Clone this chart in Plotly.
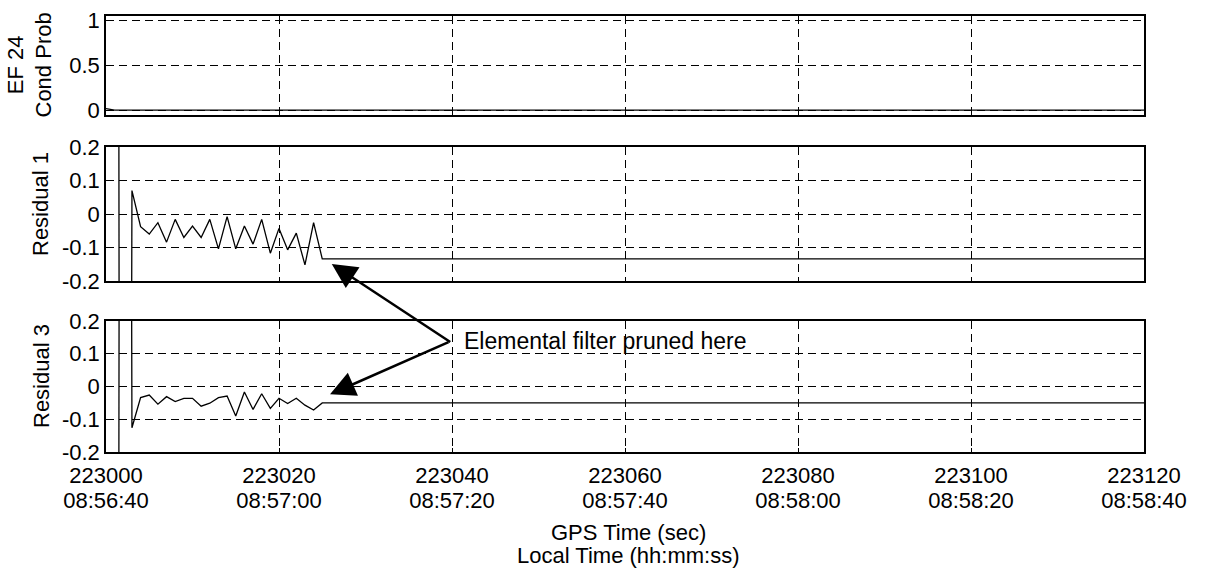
import plotly.graph_objects as go

# ---- data -------------------------------------------------------------
gps_ticks = [223000, 223020, 223040, 223060, 223080, 223100, 223120]
local_ticks = ["08:56:40", "08:57:00", "08:57:20", "08:57:40",
               "08:58:00", "08:58:20", "08:58:40"]

# conditional probability of elemental filter 24
prob_time = [223000, 223001, 223120]
prob_vals = [0.02, 0.005, 0.005]

# residual samples, one per second until the filter is pruned
res_time = [223001, 223002, 223003, 223004, 223005, 223006, 223007, 223008,
            223009, 223010, 223011, 223012, 223013, 223014, 223015, 223016,
            223017, 223018, 223019, 223020, 223021, 223022, 223023, 223024,
            223025, 223120]
res1 = [10, -10, 0.07, -0.038, -0.06, -0.026, -0.084, -0.016, -0.07, -0.036,
        -0.07, -0.016, -0.104, -0.008, -0.104, -0.036, -0.09, -0.016, -0.117,
        -0.043, -0.107, -0.057, -0.152, -0.026, -0.134, -0.134]
res3 = [-10, 10, -0.126, -0.034, -0.026, -0.054, -0.031, -0.046, -0.036,
        -0.036, -0.06, -0.051, -0.034, -0.029, -0.09, -0.017, -0.07, -0.022,
        -0.067, -0.036, -0.052, -0.036, -0.057, -0.072, -0.05, -0.05]

prob_ticks = [0, 0.5, 1]
prob_labels = ["0", "0.5", "1"]
res_ticks = [-0.2, -0.1, 0, 0.1, 0.2]
res_labels = ["-0.2", "-0.1", "0", "0.1", "0.2"]

# pruning point marked on each residual panel
prune_r1 = (223026.1, -0.149)
prune_r3 = (223025.9, -0.024)

# ---- figure -----------------------------------------------------------
W, H = 1207, 573
FONT = "Liberation Sans, Arial, Helvetica, sans-serif"
line = dict(color="black", width=1.3)

fig = go.Figure()
fig.add_trace(go.Scatter(x=prob_time, y=prob_vals, mode="lines", line=line,
                         xaxis="x", yaxis="y"))
fig.add_trace(go.Scatter(x=res_time, y=res1, mode="lines", line=line,
                         xaxis="x2", yaxis="y2"))
fig.add_trace(go.Scatter(x=res_time, y=res3, mode="lines", line=line,
                         xaxis="x3", yaxis="y3"))
# carrier for the local-time tick row
fig.add_trace(go.Scatter(x=[], y=[], mode="lines", xaxis="x4", yaxis="y3",
                         hoverinfo="skip"))


def px_x(p):
    return p / W


def px_y(p):
    return 1 - p / H


xdom = [px_x(106), px_x(1144)]
doms = {
    "y": [px_y(115), px_y(16)],
    "y2": [px_y(281), px_y(147)],
    "y3": [px_y(452), px_y(321)],
}

tickfont = dict(family=FONT, size=22, color="black")
common_x = dict(
    range=[gps_ticks[0], gps_ticks[-1]], domain=xdom, tickvals=gps_ticks,
    showgrid=True, gridcolor="black", gridwidth=1, griddash="8px,5px",
    showline=True, linecolor="black", linewidth=1.5, mirror=True,
    ticks="inside", ticklen=4, tickcolor="black", zeroline=False,
    tickfont=tickfont, automargin=False,
)
common_y = dict(
    showgrid=True, gridcolor="black", gridwidth=1, griddash="8px,5px",
    showline=True, linecolor="black", linewidth=1.5, mirror=True,
    ticks="inside", ticklen=4, tickcolor="black", zeroline=False,
    tickfont=tickfont, automargin=False,
)

fig.update_layout(
    template="none",
    width=W, height=H, autosize=False,
    margin=dict(l=0, r=0, t=0, b=0, pad=0),
    paper_bgcolor="white", plot_bgcolor="white",
    showlegend=False,
    font=dict(family=FONT, size=22, color="black"),
    xaxis=dict(common_x, anchor="y", showticklabels=False),
    xaxis2=dict(common_x, anchor="y2", showticklabels=False),
    xaxis3=dict(common_x, anchor="y3", ticktext=[str(v) for v in gps_ticks],
                ticklabelstandoff=3),
    xaxis4=dict(range=[gps_ticks[0], gps_ticks[-1]], domain=xdom,
                overlaying="x3", anchor="free", position=px_y(485),
                side="bottom", tickvals=gps_ticks, ticktext=local_ticks,
                showgrid=False, showline=False, zeroline=False, ticks="",
                tickfont=tickfont, automargin=False),
    yaxis=dict(common_y, anchor="x", domain=doms["y"], range=[-0.05, 1.05],
               tickvals=prob_ticks, ticktext=prob_labels),
    yaxis2=dict(common_y, anchor="x2", domain=doms["y2"], range=[-0.2, 0.2],
                tickvals=res_ticks, ticktext=res_labels),
    yaxis3=dict(common_y, anchor="x3", domain=doms["y3"], range=[-0.2, 0.2],
                tickvals=res_ticks, ticktext=res_labels),
)

# axis titles
titles = [
    ("EF 24<br>Cond Prob", px_x(30), (doms["y"][0] + doms["y"][1]) / 2),
    ("Residual 1", px_x(41), px_y(204)),
    ("Residual 3", px_x(41), px_y(376)),
]
for txt, x, y in titles:
    fig.add_annotation(text=txt, x=x, y=y, xref="paper", yref="paper",
                       textangle=-90, showarrow=False, xanchor="center",
                       yanchor="middle", font=dict(family=FONT, size=22))

fig.add_annotation(text="GPS Time (sec)", x=px_x(628), y=px_y(532),
                   xref="paper", yref="paper", showarrow=False,
                   xanchor="center", yanchor="middle",
                   font=dict(family=FONT, size=22))
fig.add_annotation(text="Local Time (hh:mm:ss)", x=px_x(628), y=px_y(555),
                   xref="paper", yref="paper", showarrow=False,
                   xanchor="center", yanchor="middle",
                   font=dict(family=FONT, size=22))

# pruning callout
fig.add_annotation(text="Elemental filter pruned here", x=223041.2, y=0.139,
                   xref="x3", yref="y3", xanchor="left", yanchor="middle",
                   showarrow=False, font=dict(family=FONT, size=23))
fig.add_annotation(x=prune_r1[0], y=prune_r1[1], xref="x2", yref="y2",
                   ax=120, ay=79, text="", showarrow=True, arrowhead=2,
                   arrowsize=2, arrowwidth=2.5, arrowcolor="black")
fig.add_annotation(x=prune_r3[0], y=prune_r3[1], xref="x3", yref="y3",
                   ax=120, ay=-53, text="", showarrow=True, arrowhead=2,
                   arrowsize=2, arrowwidth=2.5, arrowcolor="black")

fig.write_html("out.html")
